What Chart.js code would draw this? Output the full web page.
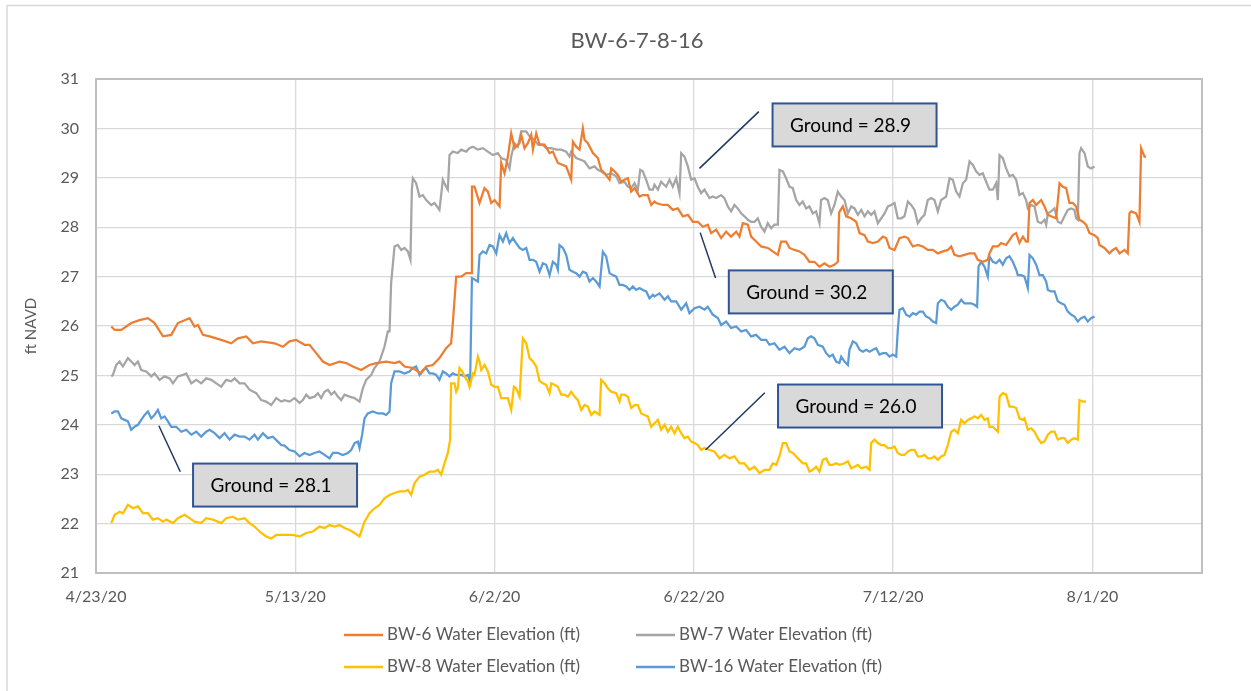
<!DOCTYPE html>
<html><head><meta charset="utf-8">
<script src="https://cdn.jsdelivr.net/npm/chart.js@4.4.1/dist/chart.umd.min.js"></script>
<style>html,body{margin:0;padding:0;background:#fff;}#wrap{width:1251px;height:691px;}</style>
</head><body><div id="wrap"><canvas id="c" width="1251" height="691"></canvas></div>
<script>
const chartTitle = 'BW-6-7-8-16';
const yTitle = 'ft NAVD';
const tickLabels = ['4/23/20','5/13/20','6/2/20','6/22/20','7/12/20','8/1/20'];
const seriesNames = ['BW-6 Water Elevation (ft)','BW-7 Water Elevation (ft)','BW-8 Water Elevation (ft)','BW-16 Water Elevation (ft)'];
const seriesColors = ['#ED7D31','#A5A5A5','#FFC000','#5B9BD5'];

// [days since 4/23/20, ft NAVD]
const bw6 = [[1.53,25.99],[1.87,25.92],[2.54,25.92],[3.54,26.06],[4.37,26.12],[5.21,26.16],[5.88,26.06],[6.72,25.79],[7.55,25.82],[8.22,26.06],[9.39,26.16],[9.89,25.99],[10.23,26.02],[10.73,25.82],[11.4,25.79],[12.57,25.72],[13.57,25.65],[14.24,25.75],[15.08,25.79],[15.75,25.65],[16.58,25.69],[17.92,25.65],[18.76,25.58],[19.42,25.69],[20.09,25.72],[20.93,25.62],[21.43,25.62],[22.1,25.45],[22.77,25.28],[23.44,25.21],[24.44,25.28],[25.11,25.25],[25.78,25.18],[26.61,25.11],[27.45,25.21],[28.12,25.25],[29.12,25.28],[29.96,25.25],[30.46,25.28],[30.96,25.18],[31.8,25.15],[32.63,25.04],[33.14,25.18],[33.8,25.21],[34.47,25.35],[35.14,25.55],[35.64,25.65],[35.81,26.06],[36.15,27.0],[36.65,27.0],[37.15,27.07],[37.66,27.07],[37.73,28.82],[37.99,28.82],[38.49,28.49],[38.99,28.79],[39.33,28.72],[39.67,28.49],[40.0,28.55],[40.5,28.42],[40.67,29.3],[41.0,29.09],[41.34,29.43],[41.67,29.9],[42.0,29.6],[42.5,29.7],[42.68,29.87],[43.01,29.6],[43.34,29.7],[43.68,29.87],[43.85,29.57],[44.18,29.9],[44.52,29.67],[45.02,29.67],[45.52,29.5],[45.85,29.53],[46.35,29.3],[46.86,29.26],[47.19,29.23],[47.69,28.96],[47.86,29.73],[48.19,29.63],[48.53,29.57],[48.86,30.0],[49.03,29.77],[49.36,29.7],[49.87,29.5],[50.37,29.4],[50.7,29.16],[51.04,29.09],[51.54,28.96],[51.71,29.19],[52.04,29.13],[52.37,29.06],[52.71,28.92],[53.04,28.96],[53.38,28.99],[53.71,28.72],[54.05,28.79],[54.55,28.62],[54.88,28.65],[55.38,28.65],[55.72,28.45],[56.05,28.52],[56.22,28.49],[56.89,28.45],[57.39,28.45],[57.89,28.35],[58.39,28.38],[58.9,28.22],[59.4,28.25],[59.9,28.11],[60.4,28.11],[60.9,28.01],[61.4,28.05],[61.74,27.88],[62.24,27.95],[62.74,27.78],[63.24,27.91],[63.74,27.81],[64.25,27.91],[64.58,27.81],[64.91,28.08],[65.42,28.05],[65.75,27.81],[66.25,27.71],[66.75,27.61],[67.42,27.58],[67.92,27.51],[68.43,27.44],[68.76,27.71],[69.26,27.71],[69.6,27.58],[70.1,27.54],[70.6,27.51],[71.1,27.44],[71.6,27.3],[72.1,27.3],[72.61,27.2],[73.11,27.27],[73.61,27.2],[74.11,27.24],[74.45,27.3],[74.58,28.3],[74.96,28.42],[75.29,28.22],[75.79,28.18],[76.29,28.11],[76.63,27.88],[77.13,27.84],[77.46,27.71],[77.97,27.68],[78.47,27.71],[78.97,27.81],[79.3,27.78],[79.64,27.58],[80.14,27.54],[80.64,27.78],[81.14,27.81],[81.48,27.78],[81.98,27.61],[82.48,27.64],[82.98,27.61],[83.48,27.54],[83.99,27.54],[84.49,27.47],[84.99,27.51],[85.49,27.54],[85.83,27.61],[86.16,27.44],[86.66,27.41],[87.16,27.44],[87.67,27.47],[88.17,27.47],[88.5,27.34],[89.0,27.3],[89.5,27.34],[89.67,27.47],[90.01,27.61],[90.51,27.61],[90.84,27.68],[91.34,27.64],[91.68,27.74],[92.01,27.84],[92.35,27.88],[92.68,27.68],[93.02,27.81],[93.35,27.71],[93.52,27.71],[93.69,28.49],[94.02,28.55],[94.36,28.45],[94.86,28.55],[95.19,28.42],[95.53,28.25],[95.86,28.22],[96.36,28.18],[96.7,28.89],[97.03,28.82],[97.37,28.79],[97.7,28.49],[98.03,28.49],[98.37,28.42],[98.7,28.15],[99.04,28.11],[99.37,28.05],[99.71,27.88],[100.21,27.84],[100.54,27.78],[100.71,27.64],[101.21,27.58],[101.71,27.47],[102.05,27.54],[102.38,27.58],[102.72,27.47],[103.22,27.54],[103.55,27.47],[103.72,28.28],[103.89,28.32],[104.39,28.28],[104.72,28.11],[104.89,29.6],[105.23,29.43],[105.39,29.43]];

const bw7 = [[1.53,24.98],[1.7,25.01],[2.03,25.21],[2.37,25.28],[2.7,25.18],[3.2,25.35],[3.54,25.28],[3.87,25.21],[4.21,25.28],[4.54,25.11],[5.04,25.08],[5.55,24.98],[5.88,25.04],[6.38,24.91],[6.88,24.98],[7.39,24.94],[7.72,24.84],[8.22,24.98],[8.72,25.01],[9.06,25.04],[9.56,24.84],[10.06,24.91],[10.56,24.84],[11.06,24.94],[11.57,24.91],[12.07,24.84],[12.57,24.77],[13.07,24.91],[13.57,24.88],[13.91,24.94],[14.41,24.84],[14.91,24.84],[15.41,24.71],[16.08,24.64],[16.58,24.5],[17.08,24.47],[17.59,24.4],[18.09,24.54],[18.59,24.47],[18.92,24.5],[19.42,24.47],[19.93,24.54],[20.43,24.44],[20.76,24.5],[21.1,24.61],[21.43,24.54],[21.93,24.57],[22.27,24.64],[22.6,24.54],[22.93,24.67],[23.27,24.71],[23.6,24.61],[23.94,24.67],[24.27,24.57],[24.61,24.5],[24.94,24.61],[25.44,24.57],[25.95,24.54],[26.45,24.47],[26.78,24.74],[27.12,24.91],[27.62,25.01],[27.95,25.15],[28.45,25.28],[28.95,25.58],[29.29,25.89],[29.46,25.89],[29.62,26.87],[29.96,27.61],[30.29,27.64],[30.63,27.54],[30.96,27.58],[31.3,27.51],[31.56,27.34],[31.7,28.76],[31.8,28.99],[32.13,28.89],[32.47,28.62],[32.8,28.65],[33.14,28.55],[33.64,28.45],[33.97,28.49],[34.47,28.35],[34.81,28.96],[35.14,28.82],[35.31,28.76],[35.48,29.46],[35.81,29.53],[36.31,29.5],[36.65,29.57],[37.15,29.53],[37.48,29.6],[37.83,29.63],[38.33,29.57],[38.83,29.6],[39.33,29.53],[39.83,29.46],[40.33,29.5],[40.67,29.4],[41.17,29.36],[41.5,29.19],[41.67,29.43],[42.0,29.7],[42.34,29.63],[42.68,29.94],[43.18,29.94],[43.51,29.84],[44.01,29.77],[44.35,29.67],[44.85,29.67],[45.18,29.6],[45.69,29.6],[46.19,29.57],[46.69,29.57],[47.19,29.53],[47.52,29.43],[47.69,29.53],[48.19,29.4],[48.7,29.36],[49.03,29.33],[49.53,29.19],[50.03,29.23],[50.37,29.16],[50.7,29.13],[51.2,29.06],[51.7,29.09],[52.21,29.03],[52.54,28.89],[53.04,28.92],[53.38,28.82],[53.71,28.79],[54.05,28.89],[54.38,28.76],[54.62,29.16],[54.88,29.13],[55.22,28.96],[55.55,28.76],[55.89,28.76],[56.05,28.86],[56.39,28.76],[56.72,28.92],[57.22,28.82],[57.56,28.96],[57.89,28.82],[58.23,28.99],[58.56,28.69],[58.73,29.5],[59.06,29.43],[59.4,29.23],[59.73,28.96],[60.07,28.99],[60.4,28.82],[60.73,28.69],[61.07,28.76],[61.57,28.59],[61.9,28.62],[62.24,28.59],[62.74,28.65],[63.07,28.59],[63.41,28.42],[63.74,28.32],[64.08,28.45],[64.41,28.38],[64.75,28.28],[65.08,28.22],[65.42,28.15],[65.75,28.11],[66.09,28.11],[66.42,28.18],[66.75,28.01],[67.09,27.91],[67.42,28.08],[67.76,27.98],[68.09,28.05],[68.43,28.05],[68.59,29.16],[68.93,29.13],[69.26,28.99],[69.6,28.82],[69.93,28.79],[70.27,28.55],[70.6,28.45],[70.93,28.52],[71.27,28.38],[71.6,28.42],[71.94,28.28],[72.27,28.32],[72.61,28.08],[72.77,28.55],[73.11,28.59],[73.44,28.55],[73.78,28.28],[74.11,28.45],[74.45,28.72],[74.79,28.62],[75.12,28.55],[75.46,28.28],[75.79,28.42],[76.13,28.38],[76.46,28.25],[76.8,28.35],[77.13,28.22],[77.46,28.32],[77.8,28.25],[78.13,28.32],[78.47,28.08],[78.8,28.18],[79.14,28.28],[79.47,28.42],[79.81,28.45],[80.14,28.49],[80.47,28.18],[80.81,28.18],[81.14,28.22],[81.48,28.52],[81.81,28.45],[82.15,28.35],[82.48,28.08],[82.82,28.18],[83.15,28.25],[83.48,28.55],[83.82,28.59],[84.15,28.55],[84.49,28.32],[84.82,28.55],[85.32,28.62],[85.66,28.99],[85.99,28.96],[86.33,28.72],[86.66,28.62],[87.0,28.89],[87.33,28.96],[87.67,29.33],[88.0,29.26],[88.33,29.13],[88.67,29.06],[89.0,29.09],[89.34,28.92],[89.67,28.76],[90.01,28.76],[90.34,28.89],[90.51,28.55],[90.68,29.46],[91.01,29.4],[91.34,29.19],[91.68,29.03],[92.01,29.06],[92.35,28.96],[92.68,28.65],[93.02,28.69],[93.35,28.55],[93.52,28.38],[93.85,28.45],[94.19,28.42],[94.52,28.11],[94.86,28.08],[95.19,28.15],[95.36,28.05],[95.53,28.28],[95.86,28.32],[96.2,28.38],[96.53,28.11],[96.86,28.08],[97.2,28.22],[97.53,28.35],[97.87,28.38],[98.2,28.35],[98.37,28.18],[98.54,28.15],[98.7,29.5],[98.87,29.6],[99.21,29.5],[99.54,29.23],[99.87,29.19],[100.21,29.23]];

const bw8 = [[1.53,22.01],[1.87,22.18],[2.37,22.24],[2.7,22.21],[3.2,22.38],[3.71,22.31],[4.21,22.35],[4.71,22.21],[5.21,22.21],[5.71,22.08],[6.21,22.11],[6.72,22.04],[7.05,22.08],[7.72,22.01],[8.22,22.11],[8.89,22.18],[9.39,22.11],[9.89,22.04],[10.56,22.01],[11.06,22.11],[11.73,22.08],[12.57,22.01],[13.07,22.11],[13.74,22.14],[14.24,22.08],[14.91,22.11],[15.41,22.01],[15.91,21.94],[16.58,21.81],[17.08,21.74],[17.59,21.7],[18.09,21.77],[18.76,21.77],[19.09,21.77],[19.76,21.77],[20.43,21.74],[21.1,21.81],[21.76,21.84],[22.43,21.94],[22.94,21.91],[23.44,21.97],[23.94,21.94],[24.44,21.97],[24.94,21.91],[25.44,21.87],[25.95,21.81],[26.45,21.74],[26.95,22.04],[27.45,22.21],[27.95,22.31],[28.45,22.38],[28.95,22.51],[29.46,22.58],[29.96,22.62],[30.46,22.65],[30.96,22.65],[31.3,22.68],[31.63,22.58],[31.97,22.82],[32.47,22.95],[32.97,22.99],[33.47,23.05],[33.97,23.05],[34.31,23.09],[34.64,22.99],[34.98,23.22],[35.31,23.43],[35.54,23.7],[35.64,24.84],[35.98,24.84],[36.15,24.67],[36.31,24.74],[36.48,25.15],[36.75,25.08],[36.98,24.98],[37.32,24.88],[37.49,24.77],[37.83,25.04],[37.99,25.01],[38.33,25.38],[38.49,25.28],[38.66,25.11],[39.0,25.21],[39.33,25.08],[39.67,24.81],[40.0,24.77],[40.33,24.77],[40.67,24.54],[41.0,24.54],[41.34,24.54],[41.67,24.3],[41.94,24.77],[42.17,24.74],[42.51,24.57],[42.84,25.75],[43.18,25.65],[43.51,25.35],[43.85,25.28],[44.18,25.18],[44.52,24.88],[44.85,24.84],[45.18,24.81],[45.52,24.64],[45.69,24.84],[46.02,24.81],[46.35,24.77],[46.69,24.61],[47.02,24.61],[47.36,24.57],[47.69,24.67],[48.03,24.57],[48.36,24.5],[48.7,24.3],[49.03,24.4],[49.36,24.37],[49.7,24.2],[50.03,24.27],[50.54,24.2],[50.7,24.91],[51.04,24.84],[51.37,24.74],[51.71,24.67],[52.21,24.64],[52.54,24.47],[52.71,24.61],[53.04,24.61],[53.38,24.57],[53.71,24.34],[54.05,24.4],[54.38,24.4],[54.72,24.23],[55.05,24.2],[55.38,24.17],[55.72,23.96],[56.05,24.03],[56.39,24.1],[56.72,23.9],[57.06,24.0],[57.39,23.86],[57.72,23.96],[58.06,23.83],[58.39,23.96],[58.73,23.83],[59.06,23.73],[59.4,23.76],[59.73,23.66],[60.07,23.63],[60.4,23.59],[60.73,23.49],[61.07,23.53],[61.57,23.49],[62.07,23.46],[62.57,23.32],[63.07,23.39],[63.58,23.32],[64.08,23.36],[64.58,23.22],[65.08,23.22],[65.58,23.09],[66.09,23.15],[66.59,23.02],[67.09,23.09],[67.59,23.09],[67.92,23.22],[68.26,23.19],[68.59,23.36],[68.93,23.63],[69.26,23.63],[69.6,23.46],[69.93,23.43],[70.27,23.36],[70.6,23.29],[70.93,23.22],[71.27,23.22],[71.6,23.05],[71.94,23.09],[72.27,23.15],[72.61,23.05],[72.94,23.29],[73.28,23.32],[73.61,23.19],[73.94,23.19],[74.28,23.22],[74.61,23.19],[75.12,23.22],[75.46,23.26],[75.79,23.12],[76.13,23.15],[76.46,23.19],[76.8,23.12],[77.3,23.15],[77.63,23.09],[77.8,23.63],[78.13,23.7],[78.47,23.63],[78.8,23.59],[79.14,23.59],[79.47,23.53],[79.81,23.53],[80.14,23.56],[80.47,23.43],[80.81,23.39],[81.14,23.39],[81.48,23.46],[81.81,23.49],[82.15,23.49],[82.48,23.36],[82.82,23.36],[83.15,23.39],[83.48,23.32],[83.82,23.32],[84.15,23.36],[84.49,23.29],[84.82,23.36],[85.16,23.39],[85.49,23.59],[85.83,23.86],[86.16,23.9],[86.49,23.83],[86.83,24.1],[87.16,24.03],[87.5,24.1],[87.83,24.13],[88.17,24.17],[88.5,24.13],[88.84,24.2],[89.17,24.1],[89.5,24.13],[89.67,23.96],[90.01,23.96],[90.51,23.86],[90.68,24.57],[91.01,24.64],[91.34,24.61],[91.68,24.37],[92.01,24.37],[92.35,24.34],[92.68,24.13],[93.02,24.1],[93.19,24.13],[93.52,23.9],[93.85,23.93],[94.19,23.86],[94.52,23.73],[94.86,23.63],[95.19,23.66],[95.53,23.8],[95.86,23.86],[96.2,23.86],[96.53,23.7],[96.86,23.73],[97.2,23.73],[97.53,23.63],[97.87,23.7],[98.2,23.73],[98.54,23.7],[98.7,24.5],[99.04,24.47],[99.37,24.47]];

const bw16 = [[1.53,24.23],[1.87,24.27],[2.2,24.27],[2.54,24.13],[2.87,24.1],[3.2,24.07],[3.54,23.9],[3.87,23.96],[4.21,24.0],[4.54,24.1],[4.88,24.2],[5.21,24.27],[5.55,24.13],[5.88,24.2],[6.21,24.3],[6.55,24.13],[6.88,24.17],[7.22,24.07],[7.55,23.96],[8.05,23.96],[8.56,23.86],[9.06,23.9],[9.56,23.8],[10.06,23.86],[10.56,23.76],[11.06,23.86],[11.4,23.9],[11.9,23.83],[12.4,23.73],[12.9,23.83],[13.41,23.7],[13.91,23.8],[14.41,23.76],[14.91,23.76],[15.41,23.7],[15.91,23.8],[16.25,23.7],[16.75,23.83],[17.25,23.73],[17.75,23.76],[18.25,23.66],[18.59,23.59],[18.92,23.58],[19.42,23.49],[19.93,23.46],[20.43,23.36],[20.93,23.43],[21.43,23.39],[21.93,23.43],[22.43,23.46],[22.94,23.39],[23.44,23.32],[23.77,23.43],[24.27,23.43],[24.77,23.39],[25.28,23.43],[25.61,23.49],[25.95,23.63],[26.28,23.66],[26.45,23.53],[26.71,23.8],[26.95,24.13],[27.28,24.23],[27.78,24.27],[28.29,24.23],[28.79,24.23],[29.12,24.2],[29.46,24.27],[29.62,24.84],[29.96,25.08],[30.46,25.08],[30.96,25.04],[31.46,25.08],[31.8,25.15],[32.13,25.18],[32.47,25.01],[32.8,25.11],[33.14,25.15],[33.47,25.04],[33.8,25.04],[34.14,25.01],[34.47,24.91],[34.81,25.08],[35.14,25.04],[35.48,24.98],[35.81,25.04],[36.15,25.01],[36.65,25.01],[36.98,24.98],[37.32,25.01],[37.55,24.88],[37.73,26.97],[37.99,26.94],[38.33,26.9],[38.49,27.44],[38.83,27.51],[39.16,27.47],[39.5,27.64],[39.83,27.61],[40.17,27.47],[40.5,27.84],[40.84,27.71],[41.17,27.88],[41.5,27.68],[41.84,27.78],[42.17,27.68],[42.51,27.58],[42.84,27.54],[43.18,27.58],[43.51,27.34],[43.85,27.34],[44.18,27.3],[44.52,27.1],[44.85,27.27],[45.18,27.24],[45.52,27.03],[45.85,27.3],[46.19,27.24],[46.35,27.14],[46.52,27.64],[46.86,27.58],[47.19,27.44],[47.52,27.14],[47.86,27.1],[48.19,27.07],[48.53,27.0],[48.86,27.1],[49.2,27.07],[49.53,26.9],[49.87,26.97],[50.2,26.9],[50.54,26.8],[50.87,27.5],[51.2,27.41],[51.54,27.07],[51.87,27.03],[52.21,27.0],[52.54,26.83],[52.88,26.83],[53.21,26.8],[53.54,26.73],[53.88,26.8],[54.21,26.73],[54.55,26.77],[54.88,26.73],[55.22,26.7],[55.55,26.56],[55.89,26.63],[56.05,26.6],[56.55,26.66],[57.06,26.53],[57.39,26.6],[57.72,26.5],[58.23,26.5],[58.73,26.33],[59.23,26.46],[59.56,26.26],[60.07,26.36],[60.57,26.39],[61.07,26.33],[61.4,26.39],[61.9,26.23],[62.41,26.16],[62.74,26.02],[63.24,26.09],[63.74,25.96],[64.25,25.99],[64.75,25.89],[65.25,25.92],[65.75,25.79],[66.25,25.82],[66.75,25.72],[67.26,25.72],[67.59,25.62],[68.09,25.65],[68.59,25.52],[69.1,25.58],[69.6,25.45],[70.1,25.55],[70.6,25.52],[71.1,25.58],[71.44,25.75],[71.77,25.79],[72.1,25.75],[72.44,25.62],[72.94,25.58],[73.28,25.45],[73.61,25.38],[73.94,25.42],[74.28,25.28],[74.61,25.25],[74.79,25.38],[75.12,25.28],[75.46,25.21],[75.62,25.52],[75.96,25.69],[76.29,25.65],[76.63,25.52],[76.96,25.48],[77.3,25.52],[77.63,25.48],[77.97,25.52],[78.3,25.55],[78.63,25.42],[78.97,25.45],[79.3,25.45],[79.64,25.38],[79.97,25.42],[80.31,25.38],[80.47,25.92],[80.64,26.33],[80.98,26.36],[81.31,26.23],[81.65,26.19],[81.98,26.26],[82.31,26.23],[82.65,26.29],[82.98,26.29],[83.32,26.19],[83.65,26.16],[83.99,26.09],[84.32,26.06],[84.49,26.46],[84.82,26.53],[85.16,26.5],[85.49,26.39],[85.83,26.33],[86.16,26.39],[86.49,26.43],[86.83,26.53],[87.16,26.46],[87.5,26.46],[87.83,26.46],[88.17,26.43],[88.43,26.39],[88.57,27.2],[88.84,27.3],[89.17,27.2],[89.5,27.0],[89.67,27.41],[90.01,27.3],[90.34,27.27],[90.68,27.34],[91.01,27.24],[91.34,27.37],[91.68,27.41],[92.01,27.3],[92.35,27.14],[92.51,27.03],[92.85,27.03],[93.19,27.0],[93.52,26.77],[93.69,27.44],[94.02,27.37],[94.36,27.24],[94.69,27.03],[95.03,27.03],[95.36,26.9],[95.53,26.73],[95.86,26.7],[96.2,26.7],[96.53,26.5],[96.86,26.46],[97.2,26.43],[97.53,26.29],[97.87,26.23],[98.2,26.19],[98.54,26.09],[98.87,26.16],[99.21,26.19],[99.54,26.09],[99.87,26.16],[100.21,26.19]];

const seriesData = [bw6, bw7, bw8, bw16];

// Callout notes, anchored in data coordinates (day, ft)
const groundNotes = [
  {text:'Ground = 28.1', at:[17.97,22.78], from:[6.31,23.98], to:[8.46,23.05]},
  {text:'Ground = 28.9', at:[76.13,30.07], from:[60.57,29.19], to:[66.52,30.34]},
  {text:'Ground = 30.2', at:[71.74,26.69], from:[60.64,27.89], to:[62.18,26.97]},
  {text:'Ground = 26.0', at:[76.68,24.38], from:[61.17,23.49], to:[67.12,24.65]}
];

const FONT = 'Lato, "Open Sans", sans-serif';
const GREY_TXT = '#595959';

const framePlugin = {
  id: 'frame',
  beforeDraw(chart) {
    const c = chart.ctx;
    c.save();
    c.fillStyle = '#fff';
    c.fillRect(0, 0, chart.width, chart.height);
    c.strokeStyle = '#D9D9D9';
    c.lineWidth = 1.5;
    c.strokeRect(7, 5.5, chart.width + 20, chart.height + 20);
    c.restore();
  },
  beforeDatasetsDraw(chart) {
    const c = chart.ctx, a = chart.chartArea;
    c.save();
    c.strokeStyle = '#BFBFBF';
    c.lineWidth = 2;
    c.strokeRect(a.left, a.top, a.right - a.left, a.bottom - a.top);
    c.restore();
  }
};

const notesPlugin = {
  id: 'notes',
  afterDatasetsDraw(chart) {
    const c = chart.ctx, xs = chart.scales.x, ys = chart.scales.y;
    c.save();
    groundNotes.forEach(n => {
      c.strokeStyle = '#203864';
      c.lineWidth = 1.5;
      c.beginPath();
      c.moveTo(xs.getPixelForValue(n.from[0]), ys.getPixelForValue(n.from[1]));
      c.lineTo(xs.getPixelForValue(n.to[0]), ys.getPixelForValue(n.to[1]));
      c.stroke();
      const cx = xs.getPixelForValue(n.at[0]), cy = ys.getPixelForValue(n.at[1]);
      const w = 164, h = 43;
      c.fillStyle = '#D9D9D9';
      c.fillRect(cx - w/2, cy - h/2, w, h);
      c.strokeStyle = '#2F5597';
      c.lineWidth = 2;
      c.strokeRect(cx - w/2, cy - h/2, w, h);
      c.fillStyle = '#000';
      c.font = '19px ' + FONT;
      c.textAlign = 'center';
      c.textBaseline = 'middle';
      c.fillText(n.text, cx - 4, cy + 1);
    });
    c.restore();
  }
};

const textPlugin = {
  id: 'texts',
  afterDraw(chart) {
    const c = chart.ctx;
    c.save();
    c.fillStyle = GREY_TXT;
    c.font = '22px ' + FONT;
    c.textAlign = 'center';
    c.textBaseline = 'middle';
    c.fillText(chartTitle, 637, 41);
    // legend 2 x 2
    const cols = [344, 636], rows = [635, 667];
    chart.data.datasets.forEach((ds, i) => {
      const lx = cols[i % 2], ly = rows[Math.floor(i / 2)];
      c.strokeStyle = ds.borderColor;
      c.lineWidth = 2.5;
      c.beginPath(); c.moveTo(lx, ly); c.lineTo(lx + 39, ly); c.stroke();
      c.fillStyle = GREY_TXT;
      c.font = '17px ' + FONT;
      c.textAlign = 'left';
      c.textBaseline = 'middle';
      c.fillText(ds.label, lx + 43, ly);
    });
    c.restore();
  }
};

function draw() {
  new Chart(document.getElementById('c'), {
    type: 'line',
    data: {
      datasets: seriesData.map((s, i) => ({
        label: seriesNames[i],
        data: s.map(p => ({x: p[0], y: p[1]})),
        borderColor: seriesColors[i],
        backgroundColor: seriesColors[i],
        borderWidth: 2.25,
        pointRadius: 0,
        tension: 0,
        fill: false
      }))
    },
    options: {
      responsive: false,
      devicePixelRatio: 1,
      animation: false,
      layout: {padding: {top: 79, right: 49, bottom: 0, left: 0}},
      plugins: {legend: {display: false}, title: {display: false}, tooltip: {enabled: false}},
      scales: {
        x: {
          type: 'linear', min: 0, max: 111,
          afterFit: s => { s.height = 118; },
          ticks: {
            stepSize: 20, includeBounds: false, autoSkip: false, maxRotation: 0,
            padding: 14, color: GREY_TXT, font: {family: FONT, size: 16},
            callback: v => tickLabels[Math.round(v / 20)] || ''
          },
          grid: {color: '#D9D9D9', lineWidth: 1.3, drawTicks: false},
          border: {display: false}
        },
        y: {
          min: 21, max: 31,
          afterFit: s => { s.width = 96; },
          ticks: {stepSize: 1, padding: 17, color: GREY_TXT, font: {family: FONT, size: 16}},
          grid: {color: '#D9D9D9', lineWidth: 1.3, drawTicks: false},
          border: {display: false},
          title: {display: true, text: yTitle, color: GREY_TXT, font: {family: FONT, size: 15}, padding: {top: 22, bottom: 0}}
        }
      }
    },
    plugins: [framePlugin, notesPlugin, textPlugin]
  });
}
if (document.fonts && document.fonts.load) {
  Promise.all([document.fonts.load('16px Lato'), document.fonts.load('19px Lato'), document.fonts.load('22px Lato')]).then(draw, draw);
} else { draw(); }
</script></body></html>
